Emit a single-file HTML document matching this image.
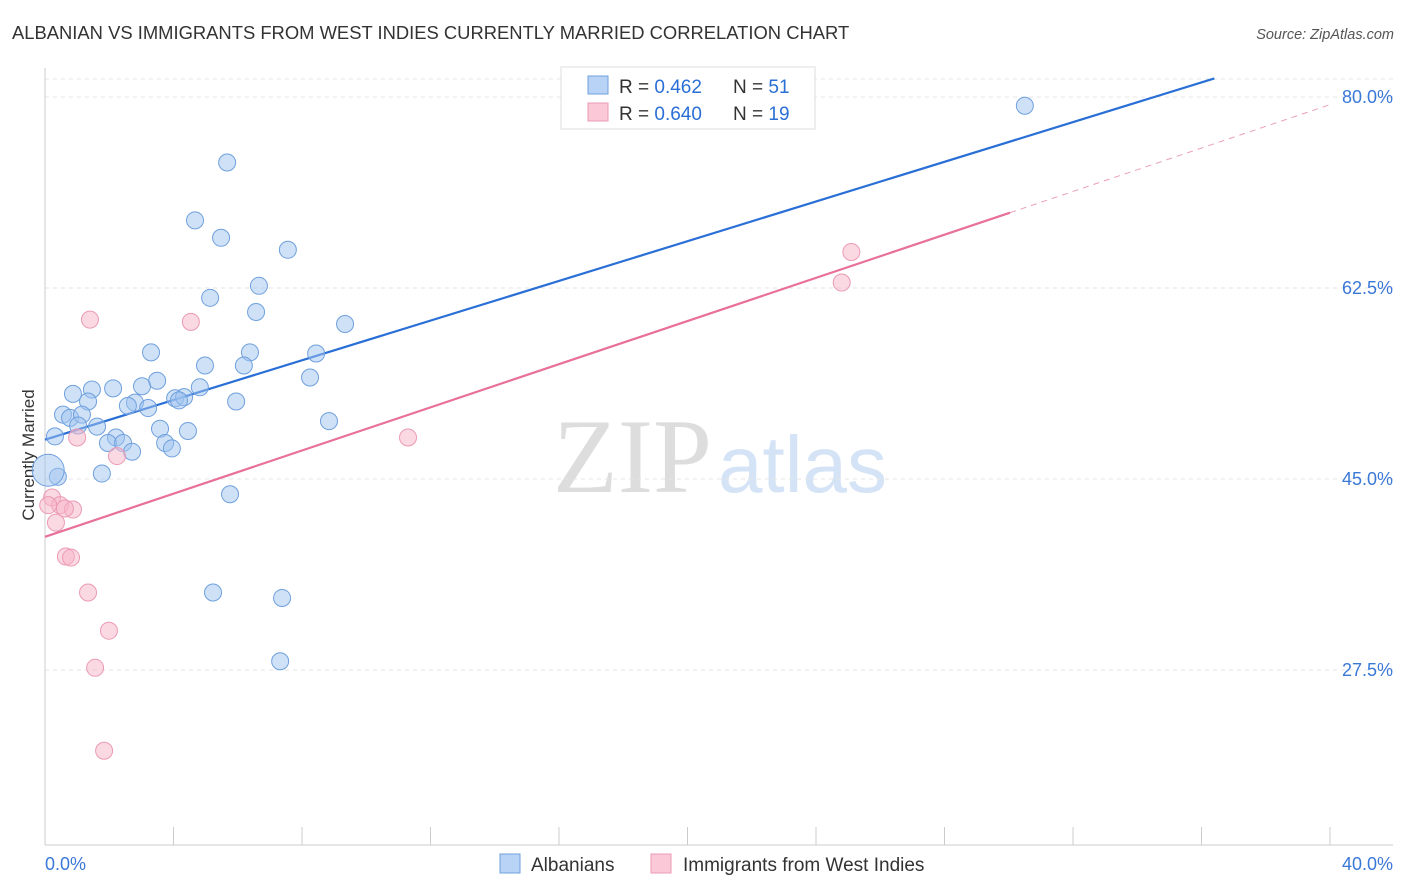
<!DOCTYPE html>
<html><head><meta charset="utf-8"><style>
body{margin:0;background:#fff;font-family:"Liberation Sans",sans-serif;}
svg{display:block}
</style></head><body>
<svg width="1406" height="892" id="c">
<text x="12" y="39" font-size="18.4" fill="#333">ALBANIAN VS IMMIGRANTS FROM WEST INDIES CURRENTLY MARRIED CORRELATION CHART</text>
<text x="1394" y="39" font-size="14.5" fill="#555" font-style="italic" text-anchor="end">Source: ZipAtlas.com</text>
<text x="553" y="492" font-size="106" fill="#ddd" font-family="Liberation Serif">ZIP</text>
<text x="718" y="492" font-size="80" fill="#d4e3f5">atlas</text>
<text x="34" y="455" font-size="17" fill="#333" text-anchor="middle" transform="rotate(-90 34 455)">Currently Married</text>
<g id="grid"></g><g id="lines"></g><g id="pts"></g>
<g>
<rect x="561" y="67" width="254" height="62" fill="#fff" stroke="#ddd"/>
<rect x="588" y="76" width="20" height="18" fill="#b8d3f5" stroke="#6fa0dd"/>
<text x="619" y="93" font-size="19" fill="#333">R = <tspan fill="#2a6fd6">0.462</tspan></text>
<text x="733" y="93" font-size="19" fill="#333">N = <tspan fill="#2a6fd6">51</tspan></text>
<rect x="588" y="103" width="20" height="18" fill="#fbc8d7" stroke="#eb9ab5"/>
<text x="619" y="120" font-size="19" fill="#333">R = <tspan fill="#2a6fd6">0.640</tspan></text>
<text x="733" y="120" font-size="19" fill="#333">N = <tspan fill="#2a6fd6">19</tspan></text>
</g>
<g>
<rect x="500" y="854" width="20" height="19" fill="#b8d3f5" stroke="#6fa0dd"/>
<text x="531" y="871" font-size="19" fill="#333">Albanians</text>
<rect x="651" y="854" width="20" height="19" fill="#fbc8d7" stroke="#eb9ab5"/>
<text x="683" y="871" font-size="19" fill="#333">Immigrants from West Indies</text>
</g>
</svg>
<script>
const yTicks=[80,62.5,45,27.5];
const blueX=[30.5,5.67,4.67,5.48,7.56,6.66,5.14,6.57,9.34,3.30,6.38,8.44,4.98,6.19,8.25,3.49,3.02,2.12,1.46,4.82,0.87,1.34,4.05,4.33,4.17,5.95,2.80,2.58,3.21,0.56,0.78,1.15,1.03,1.62,8.84,3.58,4.45,2.21,0.31,1.96,2.43,3.74,3.95,2.71,1.77,0.40,0.1,5.76,5.23,7.38,7.32];
const blueY=[79.2,74.0,68.7,67.1,66.0,62.7,61.6,60.3,59.2,56.6,56.6,56.5,55.4,55.4,54.3,54.0,53.5,53.3,53.2,53.4,52.8,52.1,52.4,52.5,52.2,52.1,52.0,51.7,51.5,50.9,50.6,50.9,49.9,49.8,50.3,49.6,49.4,48.8,48.9,48.3,48.3,48.3,47.8,47.5,45.5,45.2,45.8,43.6,34.6,34.1,28.3];
const pinkX=[25.1,24.8,1.40,4.54,11.3,1.0,2.24,0.22,0.47,0.87,0.62,0.34,0.65,0.81,1.34,1.99,1.56,1.84,0.1];
const pinkY=[65.8,63.0,59.6,59.4,48.8,48.8,47.1,43.3,42.6,42.2,42.3,41.0,37.9,37.8,34.6,31.1,27.7,20.1,42.6];
const blueTrend=[48.6,81.7];const blueTrendX=[0,36.4];
const pinkTrend=[39.7,69.4,79.3];const pinkTrendX=[0,30.04,40];
const sx=v=>45+v*32.125, sy=v=>97+(80-v)*10.914;
const NS='http://www.w3.org/2000/svg';
function mk(t,a,p){const e=document.createElementNS(NS,t);for(const k in a)e.setAttribute(k,a[k]);p.appendChild(e);return e;}
const g=document.getElementById('grid'),L=document.getElementById('lines'),P=document.getElementById('pts');
mk('line',{x1:45,y1:79,x2:1393,y2:79,stroke:'#e4e4e4','stroke-dasharray':'4 4'},g);
yTicks.forEach(t=>{
 const l=mk('line',{x1:45,y1:sy(t),x2:1393,y2:sy(t),stroke:'#e4e4e4','stroke-dasharray':'4 4'},g);
 
 
 const tx=mk('text',{x:1393,y:sy(t)+6,'font-size':18,fill:'#3a78d8','text-anchor':'end'},g);tx.textContent=t.toFixed(1)+'%';
 
 
});
mk('line',{x1:45,y1:68,x2:45,y2:845,stroke:'#ccc'},g);
mk('line',{x1:45,y1:845,x2:1393,y2:845,stroke:'#ccc'},g);
for(let i=0;i<=10;i++){mk('line',{x1:sx(i*4),y1:827,x2:sx(i*4),y2:845,stroke:'#ccc'},g);}
let t0=mk('text',{x:45,y:870,'font-size':18,fill:'#3a78d8'},g);t0.textContent='0.0%';


let t1=mk('text',{x:1393,y:870,'font-size':18,fill:'#3a78d8','text-anchor':'end'},g);t1.textContent='40.0%';


let bl=mk('line',{x1:sx(blueTrendX[0]),y1:sy(blueTrend[0]),x2:sx(blueTrendX[1]),y2:sy(blueTrend[1]),stroke:'#2a6fd6','stroke-width':2.2},L);


let pl=mk('line',{x1:sx(pinkTrendX[0]),y1:sy(pinkTrend[0]),x2:sx(pinkTrendX[1]),y2:sy(pinkTrend[1]),stroke:'#e8709a','stroke-width':2.2},L);


let pd=mk('line',{x1:sx(pinkTrendX[1]),y1:sy(pinkTrend[1]),x2:sx(pinkTrendX[2]),y2:sy(pinkTrend[2]),stroke:'#eba0b8','stroke-width':1,'stroke-dasharray':'6 5'},L);


blueX.forEach((x,i)=>{
 const c=mk('circle',{cx:sx(x),cy:sy(blueY[i]),r:(i==46?16:8.5),fill:'rgba(160,196,240,0.5)',stroke:'#6fa0dd','stroke-width':1},P);
 
 
});
pinkX.forEach((x,i)=>{
 const c=mk('circle',{cx:sx(x),cy:sy(pinkY[i]),r:8.5,fill:'rgba(248,180,200,0.5)',stroke:'#eb9ab5','stroke-width':1},P);
 
 
});
</script>
</body></html>
